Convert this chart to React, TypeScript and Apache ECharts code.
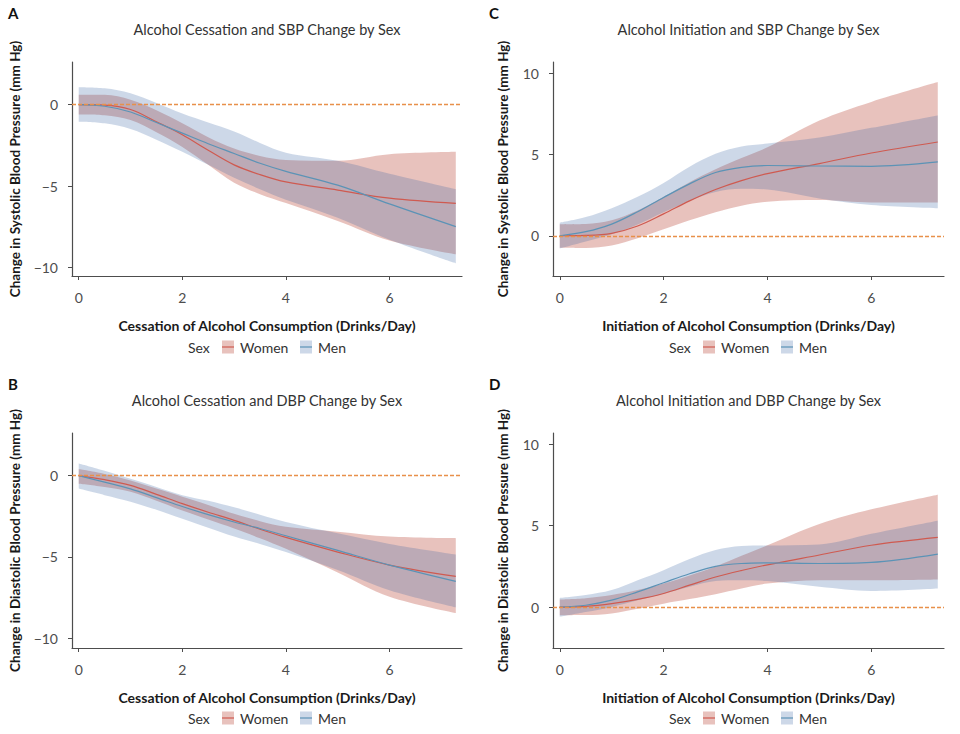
import React, { useEffect, useRef } from "react";
import * as echarts from "echarts";

// Drinks/day grid at which the curves are read
const X_DRINKS = [0, 0.5, 1, 1.5, 2, 2.5, 3, 3.5, 4, 5, 6, 7.28];

// A: Alcohol cessation and SBP change
const sbpCessWomenMean = [0, -0.03, -0.3, -1.05, -1.85, -2.8, -3.7, -4.3, -4.75, -5.25, -5.75, -6.07];
const sbpCessWomenHi = [0.6, 0.6, 0.3, -0.35, -1.15, -2.0, -2.7, -3.15, -3.4, -3.45, -3.05, -2.9];
const sbpCessWomenLo = [-0.6, -0.65, -0.95, -1.7, -2.6, -3.7, -4.8, -5.5, -6.05, -7.15, -8.35, -9.2];
const sbpCessMenMean = [0, -0.1, -0.45, -1.1, -1.75, -2.4, -3.0, -3.6, -4.1, -4.95, -6.1, -7.5];
const sbpCessMenHi = [1.07, 1.0, 0.7, 0.1, -0.55, -1.1, -1.65, -2.35, -2.95, -3.45, -4.25, -5.2];
const sbpCessMenLo = [-1.05, -1.15, -1.5, -2.15, -2.9, -3.7, -4.5, -5.2, -5.85, -6.95, -8.3, -9.75];

// B: Alcohol cessation and DBP change
const dbpCessWomenMean = [0, -0.25, -0.6, -1.15, -1.72, -2.25, -2.75, -3.3, -3.8, -4.7, -5.5, -6.2];
const dbpCessWomenHi = [0.4, 0.1, -0.3, -0.8, -1.3, -1.8, -2.35, -2.8, -3.15, -3.45, -3.75, -3.85];
const dbpCessWomenLo = [-0.5, -0.7, -1.0, -1.55, -2.15, -2.7, -3.25, -3.85, -4.5, -5.95, -7.45, -8.45];
const dbpCessMenMean = [0, -0.4, -0.82, -1.35, -1.9, -2.4, -2.85, -3.25, -3.7, -4.6, -5.5, -6.5];
const dbpCessMenHi = [0.75, 0.3, -0.2, -0.7, -1.2, -1.55, -1.95, -2.4, -2.85, -3.55, -4.2, -4.85];
const dbpCessMenLo = [-0.8, -1.2, -1.6, -2.1, -2.65, -3.2, -3.75, -4.2, -4.7, -5.8, -7.05, -8.1];

// C: Alcohol initiation and SBP change
const sbpInitWomenMean = [0, 0.02, 0.15, 0.6, 1.35, 2.15, 2.85, 3.4, 3.83, 4.45, 5.1, 5.78];
const sbpInitWomenHi = [0.7, 0.72, 0.95, 1.55, 2.4, 3.3, 4.1, 4.8, 5.45, 7.1, 8.25, 9.47];
const sbpInitWomenLo = [-0.74, -0.75, -0.6, -0.15, 0.4, 0.95, 1.45, 1.85, 2.1, 2.2, 2.05, 2.05];
const sbpInitMenMean = [0, 0.25, 0.72, 1.48, 2.36, 3.2, 3.9, 4.22, 4.33, 4.3, 4.28, 4.55];
const sbpInitMenHi = [0.8, 1.15, 1.7, 2.4, 3.25, 4.25, 5.05, 5.5, 5.68, 6.05, 6.65, 7.42];
const sbpInitMenLo = [-0.78, -0.35, 0.1, 0.7, 1.45, 2.15, 2.7, 2.9, 2.85, 2.3, 1.9, 1.7];

// D: Alcohol initiation and DBP change
const dbpInitWomenMean = [0, 0.05, 0.22, 0.48, 0.84, 1.35, 1.85, 2.25, 2.6, 3.2, 3.8, 4.28];
const dbpInitWomenHi = [0.47, 0.55, 0.75, 1.05, 1.45, 1.95, 2.5, 3.15, 3.8, 5.1, 6.0, 6.9];
const dbpInitWomenLo = [-0.49, -0.48, -0.38, -0.1, 0.22, 0.5, 0.8, 1.15, 1.45, 1.65, 1.65, 1.7];
const dbpInitMenMean = [0, 0.12, 0.43, 0.94, 1.5, 2.05, 2.5, 2.68, 2.72, 2.68, 2.75, 3.26];
const dbpInitMenHi = [0.57, 0.75, 1.05, 1.65, 2.27, 2.95, 3.5, 3.75, 3.78, 3.85, 4.5, 5.3];
const dbpInitMenLo = [-0.59, -0.3, 0.02, 0.43, 0.82, 1.25, 1.6, 1.65, 1.6, 1.25, 1.0, 1.15];

const X_TICKS = [0, 2, 4, 6];
const Y_TICKS_CESS = [-10, -5, 0];
const Y_TICKS_INIT = [0, 5, 10];
const LEGEND_TITLE = "Sex";
const GROUPS = ["Women", "Men"];

const FONT = "Lato, 'Noto Sans', sans-serif";
const WOMEN_LINE = "#cf5a50";
const MEN_LINE = "#5b93b6";
const WOMEN_BAND = "rgba(197,102,90,0.4)";
const MEN_BAND = "rgba(55,99,163,0.25)";
const ZERO_LINE = "#e8904a";
const AXIS_COLOR = "#4d4d4d";
const SMOOTH = 0.35;

type Band = { mean: number[]; hi: number[]; lo: number[] };
type Panel = {
  letter: string;
  title: string;
  xName: string;
  yName: string;
  yMin: number;
  yMax: number;
  yTicks: number[];
  yNameGap: number;
  left: number;
  top: number;
  width: number;
  height: number;
  women: Band;
  men: Band;
};

const PANELS: Panel[] = [
  {
    letter: "A",
    title: "Alcohol Cessation and SBP Change by Sex",
    xName: "Cessation of Alcohol Consumption (Drinks/Day)",
    yName: "Change in Systolic Blood Pressure (mm Hg)",
    yMin: -10.53,
    yMax: 2.62,
    yTicks: Y_TICKS_CESS,
    yNameGap: 50,
    left: 72,
    top: 62,
    width: 390,
    height: 214,
    women: { mean: sbpCessWomenMean, hi: sbpCessWomenHi, lo: sbpCessWomenLo },
    men: { mean: sbpCessMenMean, hi: sbpCessMenHi, lo: sbpCessMenLo },
  },
  {
    letter: "B",
    title: "Alcohol Cessation and DBP Change by Sex",
    xName: "Cessation of Alcohol Consumption (Drinks/Day)",
    yName: "Change in Diastolic Blood Pressure (mm Hg)",
    yMin: -10.6,
    yMax: 2.62,
    yTicks: Y_TICKS_CESS,
    yNameGap: 50,
    left: 72,
    top: 433,
    width: 390,
    height: 215,
    women: { mean: dbpCessWomenMean, hi: dbpCessWomenHi, lo: dbpCessWomenLo },
    men: { mean: dbpCessMenMean, hi: dbpCessMenHi, lo: dbpCessMenLo },
  },
  {
    letter: "C",
    title: "Alcohol Initiation and SBP Change by Sex",
    xName: "Initiation of Alcohol Consumption (Drinks/Day)",
    yName: "Change in Systolic Blood Pressure (mm Hg)",
    yMin: -2.48,
    yMax: 10.71,
    yTicks: Y_TICKS_INIT,
    yNameGap: 43,
    left: 553,
    top: 62,
    width: 391,
    height: 214,
    women: { mean: sbpInitWomenMean, hi: sbpInitWomenHi, lo: sbpInitWomenLo },
    men: { mean: sbpInitMenMean, hi: sbpInitMenHi, lo: sbpInitMenLo },
  },
  {
    letter: "D",
    title: "Alcohol Initiation and DBP Change by Sex",
    xName: "Initiation of Alcohol Consumption (Drinks/Day)",
    yName: "Change in Diastolic Blood Pressure (mm Hg)",
    yMin: -2.5,
    yMax: 10.68,
    yTicks: Y_TICKS_INIT,
    yNameGap: 43,
    left: 553,
    top: 433,
    width: 391,
    height: 215,
    women: { mean: dbpInitWomenMean, hi: dbpInitWomenHi, lo: dbpInitWomenLo },
    men: { mean: dbpInitMenMean, hi: dbpInitMenHi, lo: dbpInitMenLo },
  },
];

const pts = (ys: number[]) => X_DRINKS.map((x, i) => [x, ys[i]]);
const minus = (v: any) => String(v).replace("-", "\u2212");
const mn = Math.min;
const mx = Math.max;

// Same bezier smoothing that ECharts uses for smooth line series
function smoothPath(p: number[][], smooth: number, first: "M" | "L"): string {
  let d = "";
  let prevX = 0, prevY = 0, cpx0 = 0, cpy0 = 0;
  const n = p.length;
  for (let i = 0; i < n; i++) {
    const x = p[i][0];
    const y = p[i][1];
    if (i === 0) {
      d += `${first}${x},${y}`;
      cpx0 = x;
      cpy0 = y;
    } else {
      let cpx1: number, cpy1: number;
      let nextCpx0 = x, nextCpy0 = y;
      if (i + 1 >= n) {
        cpx1 = x;
        cpy1 = y;
      } else {
        const nextX = p[i + 1][0];
        const nextY = p[i + 1][1];
        let vx = nextX - prevX;
        let vy = nextY - prevY;
        const dx0 = x - prevX, dx1 = nextX - x, dy0 = y - prevY, dy1 = nextY - y;
        const lenPrev = Math.sqrt(dx0 * dx0 + dy0 * dy0);
        const lenNext = Math.sqrt(dx1 * dx1 + dy1 * dy1);
        const ratio = lenNext / (lenNext + lenPrev);
        nextCpx0 = x + vx * smooth * ratio;
        nextCpy0 = y + vy * smooth * ratio;
        nextCpx0 = mn(nextCpx0, mx(nextX, x));
        nextCpy0 = mn(nextCpy0, mx(nextY, y));
        nextCpx0 = mx(nextCpx0, mn(nextX, x));
        nextCpy0 = mx(nextCpy0, mn(nextY, y));
        vx = nextCpx0 - x;
        vy = nextCpy0 - y;
        cpx1 = x - (vx * lenPrev) / lenNext;
        cpy1 = y - (vy * lenPrev) / lenNext;
        cpx1 = mn(cpx1, mx(prevX, x));
        cpy1 = mn(cpy1, mx(prevY, y));
        cpx1 = mx(cpx1, mn(prevX, x));
        cpy1 = mx(cpy1, mn(prevY, y));
        vx = x - cpx1;
        vy = y - cpy1;
        nextCpx0 = x + (vx * lenNext) / lenPrev;
        nextCpy0 = y + (vy * lenNext) / lenPrev;
      }
      d += `C${cpx0},${cpy0},${cpx1},${cpy1},${x},${y}`;
      cpx0 = nextCpx0;
      cpy0 = nextCpy0;
    }
    prevX = x;
    prevY = y;
  }
  return d;
}

function bandSeries(k: number, b: Band, color: string, name: string) {
  return {
    type: "custom",
    name,
    coordinateSystem: "cartesian2d",
    xAxisIndex: k,
    yAxisIndex: k,
    silent: true,
    data: [[0, 0]],
    renderItem: (_params: any, api: any) => {
      const upper = X_DRINKS.map((x, i) => api.coord([x, b.hi[i]]));
      const lower = X_DRINKS.map((x, i) => api.coord([x, b.lo[i]])).reverse();
      const d = smoothPath(upper, SMOOTH, "M") + smoothPath(lower, SMOOTH, "L") + "Z";
      return { type: "path", shape: { pathData: d }, style: { fill: color } };
    },
  };
}

function buildOption() {
  const grid: any[] = [];
  const xAxis: any[] = [];
  const yAxis: any[] = [];
  const series: any[] = [];
  const graphic: any[] = [];

  PANELS.forEach((p, k) => {
    grid.push({ left: p.left, top: p.top, width: p.width, height: p.height, containLabel: false });
    xAxis.push({
      type: "value",
      gridIndex: k,
      min: -0.13,
      max: 7.4,
      name: p.xName,
      nameLocation: "middle",
      nameGap: 42,
      nameTextStyle: { fontFamily: FONT, fontWeight: "bold", fontSize: 14, color: "#1a1a1a" },
      axisLine: { onZero: false, lineStyle: { color: AXIS_COLOR, width: 1.2 } },
      axisTick: { show: true, length: 4, customValues: X_TICKS, lineStyle: { color: AXIS_COLOR } },
      axisLabel: { customValues: X_TICKS, margin: 14, fontFamily: FONT, fontSize: 14, color: AXIS_COLOR },
      splitLine: { show: false },
    });
    yAxis.push({
      type: "value",
      gridIndex: k,
      min: p.yMin,
      max: p.yMax,
      name: p.yName,
      nameLocation: "middle",
      nameGap: p.yNameGap,
      nameTextStyle: { fontFamily: FONT, fontWeight: "bold", fontSize: 13.5, color: "#1a1a1a" },
      axisLine: { show: true, onZero: false, lineStyle: { color: AXIS_COLOR, width: 1.2 } },
      axisTick: { show: true, length: 4, customValues: p.yTicks, lineStyle: { color: AXIS_COLOR } },
      axisLabel: {
        customValues: p.yTicks,
        margin: 14,
        fontFamily: FONT,
        fontSize: 14,
        color: AXIS_COLOR,
        formatter: (v: number) => minus(v),
      },
      splitLine: { show: false },
    });

    series.push(bandSeries(k, p.women, WOMEN_BAND, `${GROUPS[0]} CI`));
    series.push(bandSeries(k, p.men, MEN_BAND, `${GROUPS[1]} CI`));

    series.push({
      type: "line",
      name: GROUPS[0],
      xAxisIndex: k,
      yAxisIndex: k,
      symbol: "none",
      smooth: SMOOTH,
      silent: true,
      data: pts(p.women.mean),
      lineStyle: { color: WOMEN_LINE, width: 1.2 },
      markLine: {
        silent: true,
        symbol: ["none", "none"],
        label: { show: false },
        lineStyle: { color: ZERO_LINE, type: [4, 2], width: 1.3 },
        data: [{ yAxis: 0 }],
      },
    });
    series.push({
      type: "line",
      name: GROUPS[1],
      xAxisIndex: k,
      yAxisIndex: k,
      symbol: "none",
      smooth: SMOOTH,
      silent: true,
      data: pts(p.men.mean),
      lineStyle: { color: MEN_LINE, width: 1.2 },
    });

    // panel letter, title, legend
    const cx = p.left + p.width / 2;
    const dx = p.left - 72;
    const dy = p.top - 62;
    graphic.push({
      type: "text",
      x: 8 + dx,
      y: 13 + dy,
      style: { text: p.letter, fontFamily: FONT, fontWeight: "bold", fontSize: 15, fill: "#111", verticalAlign: "middle" },
    });
    graphic.push({
      type: "text",
      x: cx,
      y: 29 + dy,
      style: { text: p.title, fontFamily: FONT, fontSize: 14.5, fill: "#333", align: "center", verticalAlign: "middle" },
    });
    const ly = 347 + dy;
    graphic.push({
      type: "text",
      x: 188 + dx,
      y: ly,
      style: { text: LEGEND_TITLE, fontFamily: FONT, fontSize: 14, fill: "#333", verticalAlign: "middle" },
    });
    const items: [string, number, string, string, number][] = [
      [GROUPS[0], 222, WOMEN_BAND, WOMEN_LINE, 240],
      [GROUPS[1], 300, MEN_BAND, MEN_LINE, 318],
    ];
    items.forEach(([label, sx, band, line, tx]) => {
      graphic.push({
        type: "rect",
        shape: { x: sx + dx, y: ly - 6.5, width: 12, height: 13 },
        style: { fill: band },
      });
      graphic.push({
        type: "line",
        shape: { x1: sx + dx, y1: ly, x2: sx + dx + 12, y2: ly },
        style: { stroke: line, lineWidth: 1.2 },
      });
      graphic.push({
        type: "text",
        x: tx + dx,
        y: ly,
        style: { text: label, fontFamily: FONT, fontSize: 14, fill: "#333", verticalAlign: "middle" },
      });
    });
  });

  return {
    animation: false,
    backgroundColor: "#ffffff",
    grid,
    xAxis,
    yAxis,
    series,
    graphic,
  };
}

export default function App() {
  const ref = useRef<HTMLDivElement>(null);
  useEffect(() => {
    if (!ref.current) return;
    const chart = echarts.init(ref.current, undefined, { renderer: "svg" });
    chart.setOption(buildOption() as any);
    return () => chart.dispose();
  }, []);
  return (
    <div
      ref={ref}
      style={{ position: "fixed", left: 0, top: 0, width: 960, height: 734, background: "#fff" }}
    />
  );
}
